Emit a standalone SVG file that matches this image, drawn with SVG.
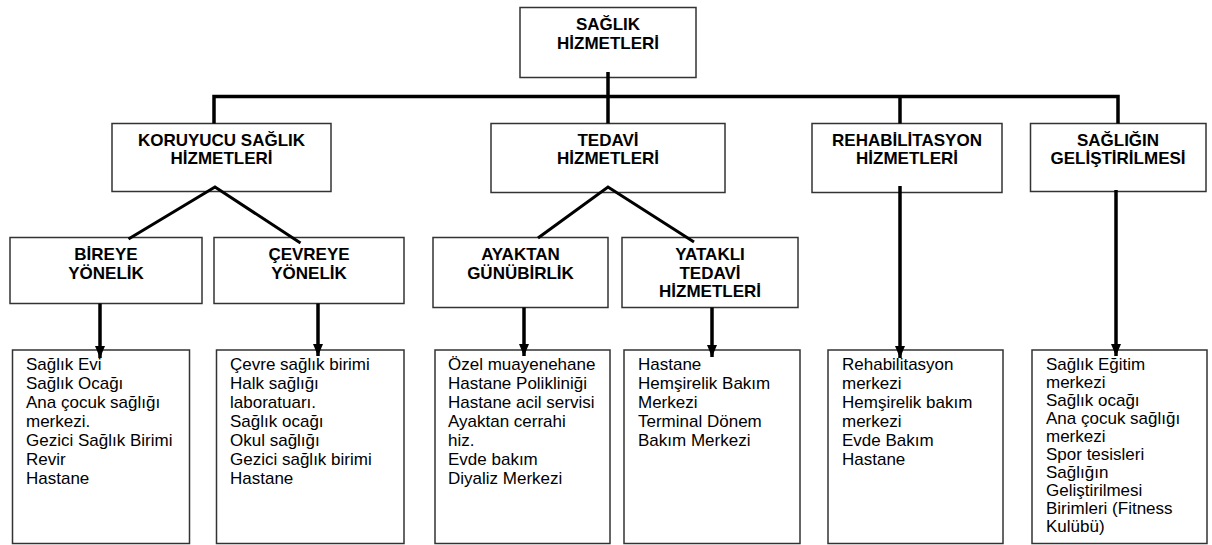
<svg xmlns="http://www.w3.org/2000/svg" width="1212" height="545" viewBox="0 0 1212 545">
<style>
.box{fill:#fff;stroke:#333;stroke-width:1.5}
.t{font-family:"Liberation Sans",Arial,sans-serif;font-size:17px;font-weight:bold;fill:#000;text-anchor:middle}
.b{font-family:"Liberation Sans",Arial,sans-serif;font-size:17px;fill:#000}
.c{fill:none;stroke:#000;stroke-width:3.5}
.d{fill:none;stroke:#000;stroke-width:3}
</style>
<defs>
<marker id="ah" markerUnits="userSpaceOnUse" markerWidth="12" markerHeight="12" viewBox="0 0 12 12" refX="12" refY="6" orient="auto">
<path d="M0,1 L12,6 L0,11 Z" fill="#000"/>
</marker>
</defs>
<rect width="1212" height="545" fill="#fff"/>
<g id="n-root"><rect class="box" x="520" y="7.5" width="176" height="70"/><text class="t" x="608" y="30">SAĞLIK</text><text class="t" x="608" y="49">HİZMETLERİ</text></g>
<g id="n-koruyucu"><rect class="box" x="112" y="123.5" width="219" height="68"/><text class="t" x="221.5" y="146">KORUYUCU SAĞLIK</text><text class="t" x="221.5" y="164">HİZMETLERİ</text></g>
<g id="n-tedavi"><rect class="box" x="491" y="123.5" width="234" height="69"/><text class="t" x="608" y="146">TEDAVİ</text><text class="t" x="608" y="164">HİZMETLERİ</text></g>
<g id="n-rehab"><rect class="box" x="812" y="123.5" width="190" height="69"/><text class="t" x="907" y="146">REHABİLİTASYON</text><text class="t" x="907" y="164">HİZMETLERİ</text></g>
<g id="n-gelistirme"><rect class="box" x="1030.5" y="123.5" width="175.5" height="68"/><text class="t" x="1118" y="146">SAĞLIĞIN</text><text class="t" x="1118" y="164">GELİŞTİRİLMESİ</text></g>
<g id="n-bireye"><rect class="box" x="10" y="237.5" width="192" height="66"/><text class="t" x="106" y="260">BİREYE</text><text class="t" x="106" y="279">YÖNELİK</text></g>
<g id="n-cevreye"><rect class="box" x="214" y="237.5" width="190" height="66"/><text class="t" x="309" y="260">ÇEVREYE</text><text class="t" x="309" y="279">YÖNELİK</text></g>
<g id="n-ayaktan"><rect class="box" x="433" y="237.5" width="175" height="70"/><text class="t" x="520.5" y="260">AYAKTAN</text><text class="t" x="520.5" y="279">GÜNÜBİRLİK</text></g>
<g id="n-yatakli"><rect class="box" x="622" y="237.5" width="176" height="70"/><text class="t" x="710" y="260">YATAKLI</text><text class="t" x="710" y="279">TEDAVİ</text><text class="t" x="710" y="297">HİZMETLERİ</text></g>
<g id="l-bireye"><rect class="box" x="12.5" y="350" width="177" height="193.5"/>
<text class="b" x="26" y="370">Sağlık Evi</text><text class="b" x="26" y="389">Sağlık Ocağı</text><text class="b" x="26" y="408">Ana çocuk sağlığı</text><text class="b" x="26" y="427">merkezi.</text><text class="b" x="26" y="446">Gezici Sağlık Birimi</text><text class="b" x="26" y="465">Revir</text><text class="b" x="26" y="484">Hastane</text></g>
<g id="l-cevreye"><rect class="box" x="216.5" y="350" width="187.5" height="193.5"/>
<text class="b" x="230" y="370">Çevre sağlık birimi</text><text class="b" x="230" y="389">Halk sağlığı</text><text class="b" x="230" y="408">laboratuarı.</text><text class="b" x="230" y="427">Sağlık ocağı</text><text class="b" x="230" y="446">Okul sağlığı</text><text class="b" x="230" y="465">Gezici sağlık birimi</text><text class="b" x="230" y="484">Hastane</text></g>
<g id="l-ayaktan"><rect class="box" x="435" y="350" width="175" height="193.5"/>
<text class="b" x="448" y="370">Özel muayenehane</text><text class="b" x="448" y="389">Hastane Polikliniği</text><text class="b" x="448" y="408">Hastane acil servisi</text><text class="b" x="448" y="427">Ayaktan cerrahi</text><text class="b" x="448" y="446">hiz.</text><text class="b" x="448" y="465">Evde bakım</text><text class="b" x="448" y="484">Diyaliz Merkezi</text></g>
<g id="l-yatakli"><rect class="box" x="624" y="350" width="176" height="193.5"/>
<text class="b" x="638" y="370">Hastane</text><text class="b" x="638" y="389">Hemşirelik Bakım</text><text class="b" x="638" y="408">Merkezi</text><text class="b" x="638" y="427">Terminal Dönem</text><text class="b" x="638" y="446">Bakım Merkezi</text></g>
<g id="l-rehab"><rect class="box" x="828" y="350" width="175" height="193.5"/>
<text class="b" x="842" y="370">Rehabilitasyon</text><text class="b" x="842" y="389">merkezi</text><text class="b" x="842" y="408">Hemşirelik bakım</text><text class="b" x="842" y="427">merkezi</text><text class="b" x="842" y="446">Evde Bakım</text><text class="b" x="842" y="465">Hastane</text></g>
<g id="l-gelistirme"><rect class="box" x="1032" y="350" width="175" height="193.5"/>
<text class="b" x="1046" y="370">Sağlık Eğitim</text><text class="b" x="1046" y="388">merkezi</text><text class="b" x="1046" y="406">Sağlık ocağı</text><text class="b" x="1046" y="424">Ana çocuk sağlığı</text><text class="b" x="1046" y="442">merkezi</text><text class="b" x="1046" y="460">Spor tesisleri</text><text class="b" x="1046" y="478">Sağlığın</text><text class="b" x="1046" y="496">Geliştirilmesi</text><text class="b" x="1046" y="514">Birimleri (Fitness</text><text class="b" x="1046" y="532">Kulübü)</text></g>
<g id="connectors">
<path class="c" d="M608,72 V123.5"/>
<path class="c" d="M214,123.5 V96.5 H1118 V123.5"/>
<path class="c" d="M900,96.5 V123.5"/>
<path class="d" d="M128.5,239 L215,187 L300.5,243"/>
<path class="d" d="M538,238 L608,187 L694,242"/>
<path class="c" d="M100,303.5 V358" marker-end="url(#ah)"/>
<path class="c" d="M318,303.5 V356" marker-end="url(#ah)"/>
<path class="c" d="M524,307.5 V356" marker-end="url(#ah)"/>
<path class="c" d="M712,307.5 V357" marker-end="url(#ah)"/>
<path class="c" d="M900,186 V358" marker-end="url(#ah)"/>
<path class="c" d="M1116,190 V356" marker-end="url(#ah)"/>
</g>
</svg>
